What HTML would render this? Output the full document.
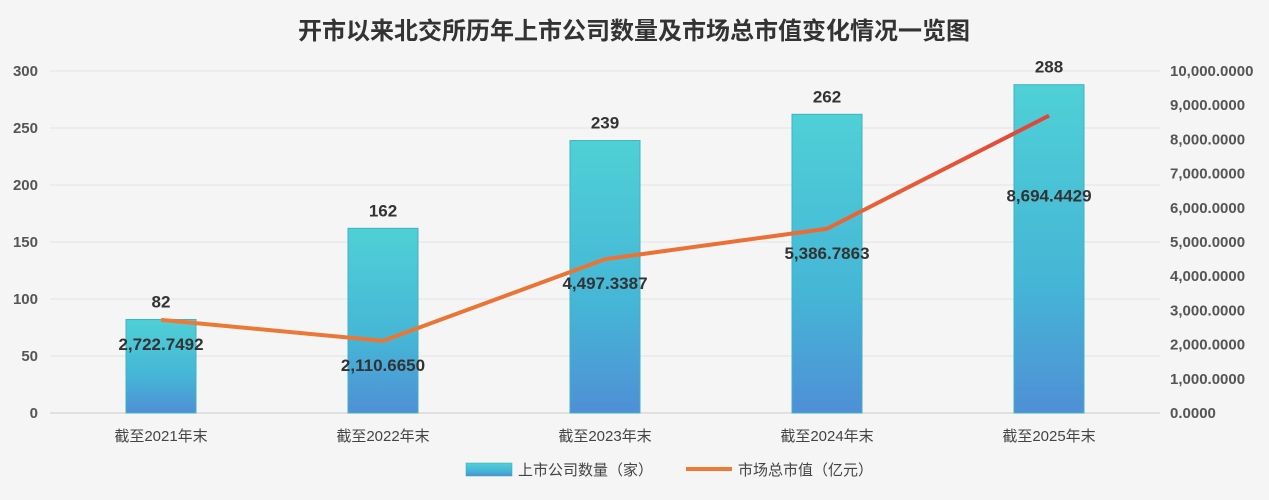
<!DOCTYPE html>
<html><head><meta charset="utf-8">
<style>
body{margin:0;background:#fff;}
#wrap{width:1269px;height:500px;background:#f5f5f5;position:relative;overflow:hidden;font-family:"Liberation Sans","Noto Sans CJK SC",sans-serif;}
text{font-family:"Liberation Sans","Noto Sans CJK SC",sans-serif;}
</style></head>
<body>
<div id="wrap">
<svg id="chart" width="1269" height="500">
<defs>
<linearGradient id="barg" x1="0" y1="0" x2="0" y2="1">
<stop offset="0" stop-color="#4fd0d6"/><stop offset="0.6" stop-color="#45b6d6"/><stop offset="1" stop-color="#4f8fd6"/>
</linearGradient>
<linearGradient id="lineg" x1="0" y1="0" x2="1" y2="0">
<stop offset="0" stop-color="#ea7a36"/><stop offset="0.7" stop-color="#ea7035"/><stop offset="1" stop-color="#e2443a"/>
</linearGradient>
</defs>
<text x="634" y="39" text-anchor="middle" font-size="24" font-weight="bold" fill="#333">开市以来北交所历年上市公司数量及市场总市值变化情况一览图</text>
<g id="grid"></g><g id="bars"></g><g id="line"></g><g id="labels"></g>
<g>
<rect x="466" y="463" width="46" height="13" fill="url(#barg)" stroke="#3aa" stroke-width="0.5"/>
<text x="518" y="475" font-size="15" fill="#444">上市公司数量（家）</text>
<line x1="686" y1="469" x2="732" y2="469" stroke="#ea7a36" stroke-width="4"/>
<text x="738" y="475" font-size="15" fill="#444">市场总市值（亿元）</text>
</g>
</svg>
</div>
<script>
const categories=["截至2021年末","截至2022年末","截至2023年末","截至2024年末","截至2025年末"];
const companyCounts=[82,162,239,262,288];
const marketValues=[2722.7492,2110.6650,4497.3387,5386.7863,8694.4429];
const leftTicks=[0,50,100,150,200,250,300];
const rightTicks=[0,1000,2000,3000,4000,5000,6000,7000,8000,9000,10000];
const NS="http://www.w3.org/2000/svg";
const x0=50,x1=1160,yB=413,yT=71;
const band=(x1-x0)/categories.length;
const xC=i=>x0+band*(i+0.5);
const yL=v=>yB-(v/300)*(yB-yT);
const yR=v=>yB-(v/10000)*(yB-yT);
function mk(tag,attrs,parent,txt){const e=document.createElementNS(NS,tag);for(const k in attrs)e.setAttribute(k,attrs[k]);if(txt!==undefined)e.textContent=txt;parent.appendChild(e);return e;}
const grid=document.getElementById('grid'),bars=document.getElementById('bars'),lineG=document.getElementById('line'),labels=document.getElementById('labels');
leftTicks.forEach(t=>{
 const l=mk('line',{x1:x0,x2:x1,y1:yL(t),y2:yL(t),stroke:t===0?'#ccc':'#e2e2e2','stroke-width':1},grid);
 
 
 const tx=mk('text',{x:38,y:yL(t)+5,'text-anchor':'end','font-size':15,'font-weight':'bold',fill:'#555'},grid,t);
 
 
});
rightTicks.forEach(t=>{
 const tx=mk('text',{x:1170,y:yR(t)+5,'font-size':15,'font-weight':'bold',fill:'#555'},grid,t.toLocaleString('en-US',{minimumFractionDigits:4,maximumFractionDigits:4}));
 
 
});
categories.forEach((c,i)=>{
 const v=companyCounts[i];
 const r=mk('rect',{x:xC(i)-35,y:yL(v),width:70,height:yB-yL(v),fill:'url(#barg)',stroke:'#3fb3c0','stroke-width':1},bars);
 
 
 const bl=mk('text',{x:xC(i),y:yL(v)-12,'text-anchor':'middle','font-size':17,'font-weight':'bold',fill:'#333'},labels,v);
 
 
 const cl=mk('text',{x:xC(i),y:441,'text-anchor':'middle','font-size':15,fill:'#444'},labels,c);
 
 
});
const pts=marketValues.map((v,i)=>xC(i)+','+yR(v)).join(' ');
const pl=mk('polyline',{points:pts,fill:'none',stroke:'url(#lineg)','stroke-width':4,'stroke-linejoin':'round'},lineG);


marketValues.forEach((v,i)=>{
 const dy=i===marketValues.length-1?86:30;
 const t=mk('text',{x:xC(i),y:yR(v)+dy,'text-anchor':'middle','font-size':17,'font-weight':'bold',fill:'#333'},labels,v.toLocaleString('en-US',{minimumFractionDigits:4,maximumFractionDigits:4}));
 
 
});
</script>
</body></html>
